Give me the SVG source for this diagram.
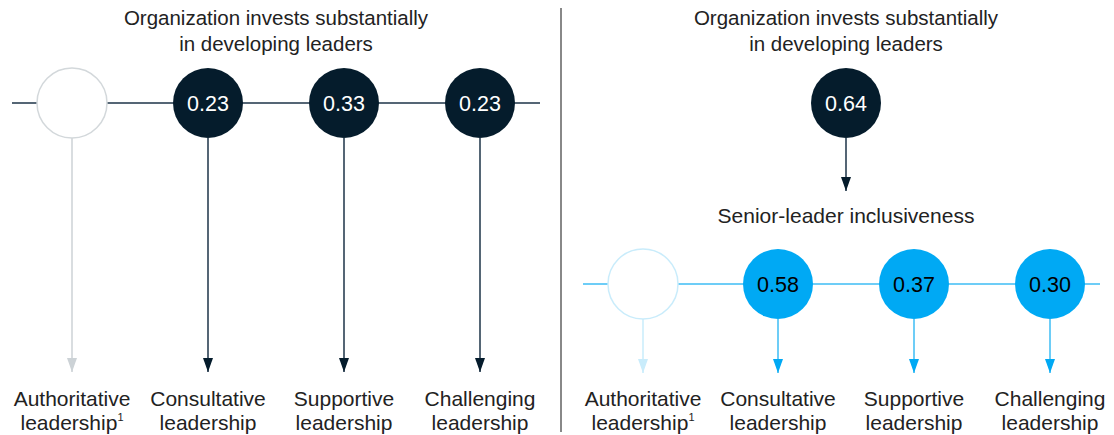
<svg xmlns="http://www.w3.org/2000/svg" width="1114" height="435" viewBox="0 0 1114 435">
<style>
text{font-family:"Liberation Sans",Arial,sans-serif;font-size:21px;fill:#222;text-anchor:middle}
.ttl{font-size:20.5px}
.num{font-size:21.5px;fill:#fff}
.numb{font-size:21.5px;fill:#000}
.dark{fill:#051C2C}
.blue{fill:#00A9F4}
.empty{fill:#fff;stroke:#d3d8db;stroke-width:1.5}
.emptyb{fill:#fff;stroke:#c9ecfb;stroke-width:1.5}
</style>
<defs>
<marker id="aD" markerWidth="10" markerHeight="14" refX="5" refY="14" markerUnits="userSpaceOnUse" viewBox="0 0 10 14"><path d="M0,0 L10,0 L5,14 Z" fill="#051C2C"/></marker>
<marker id="aG" markerWidth="10" markerHeight="14" refX="5" refY="14" markerUnits="userSpaceOnUse" viewBox="0 0 10 14"><path d="M0,0 L10,0 L5,14 Z" fill="#ccd2d6"/></marker>
<marker id="aB" markerWidth="10" markerHeight="14" refX="5" refY="14" markerUnits="userSpaceOnUse" viewBox="0 0 10 14"><path d="M0,0 L10,0 L5,14 Z" fill="#00A9F4"/></marker>
<marker id="aL" markerWidth="10" markerHeight="14" refX="5" refY="14" markerUnits="userSpaceOnUse" viewBox="0 0 10 14"><path d="M0,0 L10,0 L5,14 Z" fill="#c9ecfb"/></marker>
</defs>
<line x1="561" y1="8" x2="561" y2="432" stroke="#888" stroke-width="2"/>
<g id="connectors">
<line x1="12" y1="103" x2="540" y2="103" stroke="#1c3347" stroke-width="1.5"/>
<line x1="72" y1="138" x2="72" y2="372" stroke="#ccd2d6" stroke-width="1.5" marker-end="url(#aG)"/>
<line x1="208" y1="138" x2="208" y2="372" stroke="#1c3347" stroke-width="1.5" marker-end="url(#aD)"/>
<line x1="344" y1="138" x2="344" y2="372" stroke="#1c3347" stroke-width="1.5" marker-end="url(#aD)"/>
<line x1="480" y1="138" x2="480" y2="372" stroke="#1c3347" stroke-width="1.5" marker-end="url(#aD)"/>
<line x1="846" y1="138" x2="846" y2="191" stroke="#1c3347" stroke-width="1.5" marker-end="url(#aD)"/>
<line x1="583" y1="284" x2="1100" y2="284" stroke="#3cbcf5" stroke-width="1.5"/>
<line x1="643" y1="319" x2="643" y2="373" stroke="#c9ecfb" stroke-width="1.5" marker-end="url(#aL)"/>
<line x1="778" y1="319" x2="778" y2="373" stroke="#3cbcf5" stroke-width="1.5" marker-end="url(#aB)"/>
<line x1="914" y1="319" x2="914" y2="373" stroke="#3cbcf5" stroke-width="1.5" marker-end="url(#aB)"/>
<line x1="1050" y1="319" x2="1050" y2="373" stroke="#3cbcf5" stroke-width="1.5" marker-end="url(#aB)"/>
</g>
<g id="title-left"><text class="ttl" x="276" y="25">Organization invests substantially</text><text class="ttl" x="276" y="51">in developing leaders</text></g>
<g id="title-right"><text class="ttl" x="846" y="25">Organization invests substantially</text><text class="ttl" x="846" y="51">in developing leaders</text></g>
<g id="L-auth"><circle cx="72" cy="103" r="35" class="empty"/></g>
<g id="L-cons"><circle cx="208" cy="103" r="35" class="dark"/><text x="208" y="111" class="num">0.23</text></g>
<g id="L-supp"><circle cx="344" cy="103" r="35" class="dark"/><text x="344" y="111" class="num">0.33</text></g>
<g id="L-chal"><circle cx="480" cy="103" r="35" class="dark"/><text x="480" y="111" class="num">0.23</text></g>
<g id="R-invest"><circle cx="846" cy="103" r="35" class="dark"/><text x="846" y="111" class="num">0.64</text></g>
<g id="R-senior"><text x="846" y="223">Senior-leader inclusiveness</text></g>
<g id="R-auth"><circle cx="643" cy="284" r="35" class="emptyb"/></g>
<g id="R-cons"><circle cx="778" cy="284" r="35" class="blue"/><text x="778" y="292" class="numb">0.58</text></g>
<g id="R-supp"><circle cx="914" cy="284" r="35" class="blue"/><text x="914" y="292" class="numb">0.37</text></g>
<g id="R-chal"><circle cx="1050" cy="284" r="35" class="blue"/><text x="1050" y="292" class="numb">0.30</text></g>
<g id="L-labels">
<text x="72" y="406">Authoritative</text><text x="72" y="430">leadership<tspan font-size="11" dy="-9">1</tspan></text>
<text x="208" y="406">Consultative</text><text x="208" y="430">leadership</text>
<text x="344" y="406">Supportive</text><text x="344" y="430">leadership</text>
<text x="480" y="406">Challenging</text><text x="480" y="430">leadership</text>
</g>
<g id="R-labels">
<text x="643" y="406">Authoritative</text><text x="643" y="430">leadership<tspan font-size="11" dy="-9">1</tspan></text>
<text x="778" y="406">Consultative</text><text x="778" y="430">leadership</text>
<text x="914" y="406">Supportive</text><text x="914" y="430">leadership</text>
<text x="1050" y="406">Challenging</text><text x="1050" y="430">leadership</text>
</g>
</svg>
